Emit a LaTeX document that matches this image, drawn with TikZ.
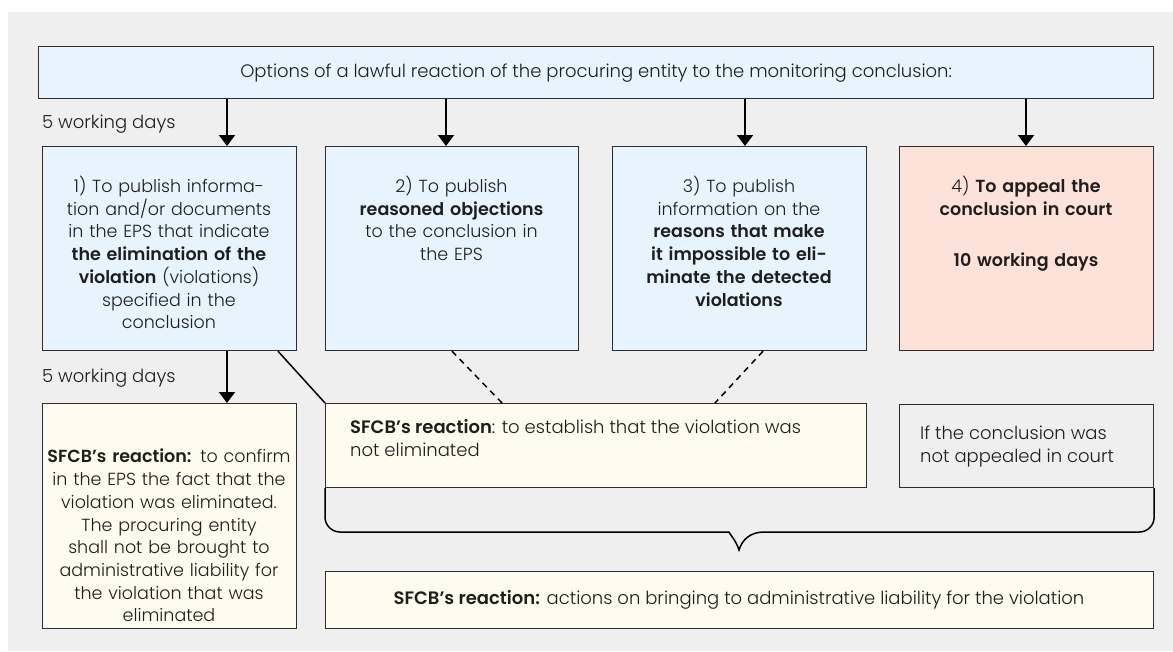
\documentclass[tikz,border=0pt]{standalone}
\usepackage{fontspec}
\setmainfont{Poppins Light}[BoldFont={Poppins SemiBold}]
\usetikzlibrary{arrows.meta,calc}
\definecolor{bgc}{HTML}{EFEFEF}
\definecolor{bluec}{HTML}{E7F4FD}
\definecolor{peachc}{HTML}{FCE2D8}
\definecolor{creamc}{HTML}{FEFCEE}
\definecolor{linec}{HTML}{2E2E2E}
\definecolor{textc}{HTML}{1E1E1E}
\begin{document}
\begin{tikzpicture}[x=1pt,y=-1pt,
  box/.style={draw=linec, line width=1.2pt, inner sep=0pt, anchor=north west},
  txt/.style={inner sep=0pt, text=textc, font=\fontsize{18}{22.7}\selectfont},
  btxt/.style={inner sep=0pt, text=textc, font=\fontsize{17.5}{22.7}\selectfont,
    anchor=north, text width=270pt, align=center},
  arr/.style={draw=black, line width=2pt, -{Triangle[width=16pt,length=11pt]}},
  link/.style={draw=black, line width=1.5pt},
  dashlink/.style={draw=black, line width=1.5pt, dash pattern=on 6pt off 5pt},
  bracec/.style={draw=black, line width=1.5pt}]
\useasboundingbox (0,0) rectangle (1173,651);
\fill[bgc] (8,12) rectangle (1173,651);

% top box
\node[box, fill=bluec, minimum width=1115pt, minimum height=52pt] (top) at (38,46) {};
\node[txt] (ttop) at (top.center) {Options of a lawful reaction of the procuring entity to the monitoring conclusion:};

% labels
\node[txt, anchor=west] (l1) at (42,124) {5 working days};
\node[txt, anchor=west] (l2) at (42,378) {5 working days};

% option boxes
\node[box, fill=bluec, minimum width=254pt, minimum height=204pt] (b1) at (42,146) {};
\node[box, fill=bluec, minimum width=253pt, minimum height=204pt] (b2) at (325,146) {};
\node[box, fill=bluec, minimum width=254pt, minimum height=204pt] (b3) at (612,146) {};
\node[box, fill=peachc, minimum width=254pt, minimum height=204pt] (b4) at (899,146) {};

\node[btxt] (t1) at (169,176)
  {1) To publish informa-\\tion and/or documents\\in the EPS that indicate\\\textbf{the elimination of the}\\\textbf{violation} (violations)\\specified in the\\conclusion};
\node[btxt] (t2) at (451.5,176)
  {2) To publish\\\textbf{reasoned objections}\\to the conclusion in\\the EPS};
\node[btxt] (t3) at (739,176)
  {3) To publish\\information on the\\\textbf{reasons that make}\\\textbf{it impossible to eli-}\\\textbf{minate the detected}\\\textbf{violations}};
\node[btxt] (t4) at (1026,176)
  {4) \textbf{To appeal the}\\\textbf{conclusion in court}\\[29pt]\textbf{10 working days}};

% lower boxes
\node[box, fill=creamc, minimum width=254pt, minimum height=225pt] (b5) at (42,403) {};
\node[box, fill=creamc, minimum width=541pt, minimum height=84pt] (b6) at (325,403) {};
\node[box, fill=bgc, minimum width=254pt, minimum height=83pt] (b7) at (899,404) {};
\node[box, fill=creamc, minimum width=828pt, minimum height=57pt] (b8) at (325,571) {};

\node[btxt] (t5) at (169,449)
  {\textbf{SFCB’s reaction:} to confirm\\in the EPS the fact that the\\violation was eliminated.\\The procuring entity\\shall not be brought to\\administrative liability for\\the violation that was\\eliminated};
\node[txt, anchor=north west, align=left] (t6) at (350,419)
  {\textbf{SFCB’s reaction}: to establish that the violation was\\not eliminated};
\node[txt, anchor=north west, align=left] (t7) at (920,426)
  {If the conclusion was\\not appealed in court};
\node[txt] (t8) at (739,600)
  {\textbf{SFCB’s reaction:} actions on bringing to administrative liability for the violation};

% connector x positions
\coordinate (x1) at (227,0);
\coordinate (x2) at (446,0);
\coordinate (x3) at (745,0);
\coordinate (x4) at (1026,0);
\coordinate (d1) at (278,0);
\coordinate (d2a) at (452,0);
\coordinate (d2b) at (502,0);
\coordinate (d3a) at (763,0);
\coordinate (d3b) at (715,0);

\draw[arr] (top.south -| x1) -- (b1.north -| x1);
\draw[arr] (top.south -| x2) -- (b2.north -| x2);
\draw[arr] (top.south -| x3) -- (b3.north -| x3);
\draw[arr] (top.south -| x4) -- (b4.north -| x4);
\draw[arr] (b1.south -| x1) -- (b5.north -| x1);

\draw[link] (b1.south -| d1) -- (b6.north west);
\draw[dashlink] (b2.south -| d2a) -- (b6.north -| d2b);
\draw[dashlink] (b3.south -| d3a) -- (b6.north -| d3b);

% brace
\coordinate (nl) at (714,532);
\coordinate (apex) at (739,550);
\coordinate (nr) at (764,532);
\draw[bracec] (b6.south west) [rounded corners=15pt] |- (nl) [sharp corners]
   .. controls (728,532) and (736,540) .. (apex)
   .. controls (742,540) and (750,532) .. (nr)
   [rounded corners=15pt] -| (b7.south east);
\end{tikzpicture}
\end{document}
